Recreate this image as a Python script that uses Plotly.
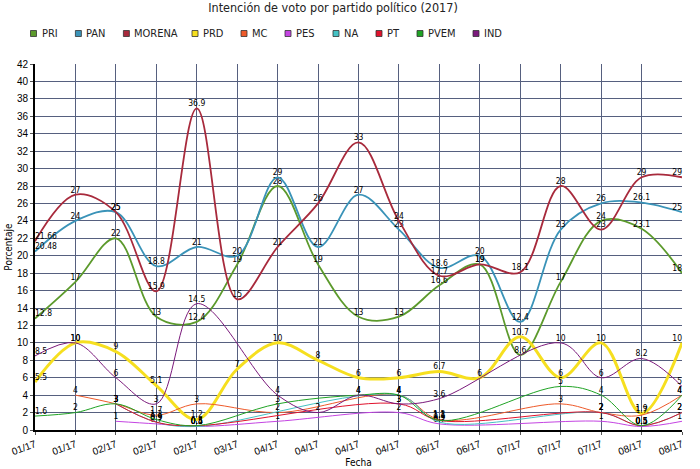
import plotly.graph_objects as go

# ---------------- data ----------------
X_LABELS = ["01/17", "01/17", "02/17", "02/17", "02/17", "03/17", "04/17", "04/17",
            "04/17", "04/17", "06/17", "06/17", "07/17", "07/17", "07/17", "08/17", "08/17"]

PRI    = [12.8, 17, 22, 13, 12.4, 19, 28, 19, 13, 13, 16.6, 19, 8.6, 17, 24, 23.1, 18]
PAN    = [20.48, 24, 25, 18.8, 21, 20, 29, 21, 27, 23, 18.6, 20, 12.4, 23, 26, 26.1, 25]
MORENA = [21.66, 27, 25, 15.9, 36.9, 15, 21, 26, 33, 24, 17.7, 19, 18.1, 28, 23, 29, 29]
PRD    = [5.5, 10, 9, 5.1, 1.2, 7, 10, 8, 6, 6, 6.7, 6, 10.7, 6, 10, 1.9, 10]
MC     = [None, 4, 3, 1.7, 3, None, 2, None, None, 4, 1.2, None, None, 3, 2, 1.7, 4]
PES    = [None, None, 1, 0.7, 0.4, None, 1, None, None, 2, 0.7, None, None, None, 1, 0.4, 1]
NA     = [None, None, 3, 0.9, 0.4, None, None, None, None, 4, 0.9, None, None, None, 2, 0.5, 2]
PT     = [None, None, 3, 0.9, 0.5, None, None, None, None, 3, 1.1, None, None, None, 2, 0.5, 2]
PVEM   = [1.6, 2, 3, 1.2, 0.5, None, 3, None, 4, 4, 1.1, None, None, 5, 4, 0.5, 4]
IND    = [8.5, 10, 6, 3, 14.5, None, 4, 2, 4, 3, 3.6, None, None, 10, 6, 8.2, 5]

SERIES_NAMES = ["PRI", "PAN", "MORENA", "PRD", "MC", "PES", "NA", "PT", "PVEM", "IND"]
SERIES_VALUES = [PRI, PAN, MORENA, PRD, MC, PES, NA, PT, PVEM, IND]

# ---------------- style ----------------
COLORS = {
    "PRI": "#5c9a2c", "PAN": "#3a93b8", "MORENA": "#a82a3c", "PRD": "#f6df1f",
    "MC": "#ee5a2a", "PES": "#c444e2", "NA": "#45c2c4", "PT": "#e0122c",
    "PVEM": "#1fa324", "IND": "#7b1a7c",
}
WIDTHS = {"PRI": 1.8, "PAN": 1.8, "MORENA": 1.8, "PRD": 3, "MC": 1, "PES": 1,
          "NA": 1, "PT": 1, "PVEM": 1, "IND": 1}
LEGEND_X = [30.5, 75.4, 123.4, 192, 241, 285, 333, 376, 417, 473]

W, H = 700, 469
PL, PR, PT_, PB = 35, 682, 64, 430
GRID = "#56607f"
NARROW = "Liberation Sans Narrow, Arial Narrow, DejaVu Sans Condensed, sans-serif"
SANS = "Liberation Sans, Arial, sans-serif"

def px_x(px):
    return (px - PL) / (PR - PL)

def px_y(py):
    return (PB - py) / (PB - PT_)

def fmt(v):
    return "" if v is None else f"{v:g}"

fig = go.Figure()
xs = list(range(len(X_LABELS)))
n = len(xs)
for name, vals in zip(SERIES_NAMES, SERIES_VALUES):
    positions = []
    for i in range(n):
        if i == 0:
            positions.append("top right")
        elif i == n - 1:
            positions.append("top left")
        else:
            positions.append("top center")
    fig.add_trace(go.Scatter(
        x=xs, y=vals, name=name, mode="lines+text",
        text=[fmt(v) for v in vals], textposition=positions,
        textfont=dict(size=8.5, color="#000000", family=NARROW),
        line=dict(color=COLORS[name], width=WIDTHS[name], shape="spline", smoothing=1),
        connectgaps=True, showlegend=False, cliponaxis=False,
    ))

# custom legend (square swatches)
shapes = []
annotations = []
for name, lx in zip(SERIES_NAMES, LEGEND_X):
    shapes.append(dict(type="rect", xref="paper", yref="paper",
                       x0=px_x(lx), x1=px_x(lx + 6), y0=px_y(36.5), y1=px_y(30.5),
                       fillcolor=COLORS[name], line=dict(color="#333333", width=0.8)))
    annotations.append(dict(x=px_x(lx + 9), y=px_y(33.5), xref="paper", yref="paper",
                            text=name, showarrow=False, xanchor="left", yanchor="middle",
                            font=dict(size=11, color="#222222", family=NARROW)))

fig.update_layout(
    width=W, height=H,
    margin=dict(l=PL, r=W - PR, t=PT_, b=H - PB, autoexpand=False),
    paper_bgcolor="white", plot_bgcolor="white",
    title=dict(text="Intención de voto por partido político (2017)", x=333 / W, xanchor="center",
               y=1 - 8 / H, yanchor="middle", yref="container", xref="container",
               automargin=False,
               font=dict(size=12.5, color="#222222", family=NARROW)),
    shapes=shapes, annotations=annotations,
    xaxis=dict(range=[0, n - 1], tickvals=xs, ticktext=X_LABELS, tickangle=-20,
               automargin=False,
               showgrid=True, gridcolor=GRID, gridwidth=1, zeroline=False,
               showline=True, linecolor="#000000", linewidth=2,
               ticks="outside", ticklen=3, tickcolor="#555555",
               tickfont=dict(size=10, color="#000000", family=SANS),
               title=dict(text="Fecha", font=dict(size=10, color="#000000", family=NARROW),
                          standoff=0)),
    yaxis=dict(range=[0, 42], dtick=2, tick0=0, showgrid=True, gridcolor=GRID, gridwidth=1,
               automargin=False,
               zeroline=False, showline=True, linecolor="#000000", linewidth=2,
               ticks="outside", ticklen=3, tickcolor="#555555",
               tickfont=dict(size=10, color="#000000", family=SANS),
               title=dict(text="Porcentaje", font=dict(size=10, color="#000000", family=NARROW),
                          standoff=2)),
)

fig.write_html("out.html", config={"displayModeBar": False},
               post_script="document.body.style.margin='0';document.body.style.overflow='hidden';")
